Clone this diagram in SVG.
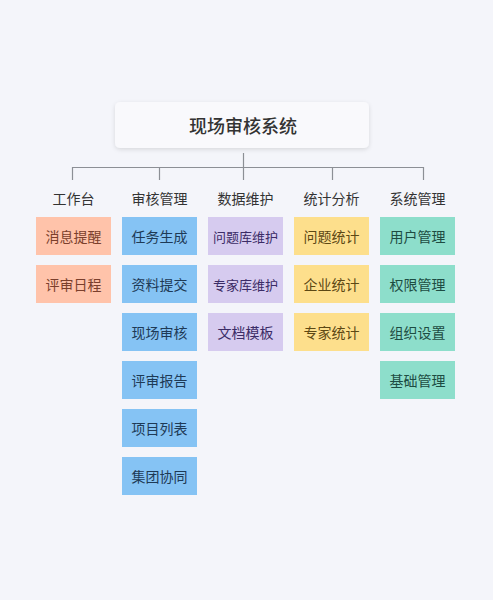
<svg xmlns="http://www.w3.org/2000/svg" width="493" height="600" viewBox="0 0 493 600">
<defs>
<style>
text{font-family:"Noto Sans CJK SC","Noto Sans",sans-serif;text-anchor:middle;dominant-baseline:central}
g text.hd{font-size:14px;fill:#333}
.bx{font-size:14px}
.c{stroke:#8c8f95;stroke-width:1.2;fill:none}
.a rect{fill:#ffc3aa}.a text{fill:#7a3f2c}
.b rect{fill:#85c3f4}.b text{fill:#1e3a56}
.p rect{fill:#d6cbef}.p text{fill:#3b2c66}
.y rect{fill:#fddf8c}.y text{fill:#5c4814}
.t rect{fill:#8ddecb}.t text{fill:#1d4c42}
</style>
<filter id="sh" x="-10%" y="-30%" width="120%" height="170%">
<feDropShadow dx="0" dy="1.5" stdDeviation="2" flood-color="#000" flood-opacity="0.12"/>
</filter>
</defs>
<rect width="493" height="600" fill="#f4f5fa"/>
<g id="root">
<rect x="115" y="102" width="254" height="46" rx="5" fill="#f9f9fc" filter="url(#sh)"/>
<text x="243" y="125" style="font-size:18px;font-weight:500;fill:#333">现场审核系统</text>
</g>
<g id="connectors">
<path class="c" d="M243.5 153V167.5M72.5 167.5H423.5M72.5 167V180M159.5 167V180M243.5 167V180M332.5 167V180M423.5 167V180"/>
</g>
<g id="col1" class="a">
<text class="hd" x="73.5" y="198">工作台</text>
<g id="n-xxtx"><rect x="36" y="217" width="75" height="38"/><text class="bx" x="73.5" y="236">消息提醒</text></g>
<g id="n-psrc"><rect x="36" y="265" width="75" height="38"/><text class="bx" x="73.5" y="284">评审日程</text></g>
</g>
<g id="col2" class="b">
<text class="hd" x="159.5" y="198">审核管理</text>
<g id="n-rwsc"><rect x="122" y="217" width="75" height="38"/><text class="bx" x="159.5" y="236">任务生成</text></g>
<g id="n-zltj"><rect x="122" y="265" width="75" height="38"/><text class="bx" x="159.5" y="284">资料提交</text></g>
<g id="n-xcsh"><rect x="122" y="313" width="75" height="38"/><text class="bx" x="159.5" y="332">现场审核</text></g>
<g id="n-psbg"><rect x="122" y="361" width="75" height="38"/><text class="bx" x="159.5" y="380">评审报告</text></g>
<g id="n-xmlb"><rect x="122" y="409" width="75" height="38"/><text class="bx" x="159.5" y="428">项目列表</text></g>
<g id="n-jtxt"><rect x="122" y="457" width="75" height="38"/><text class="bx" x="159.5" y="476">集团协同</text></g>
</g>
<g id="col3" class="p">
<text class="hd" x="245.5" y="198">数据维护</text>
<g id="n-wtk"><rect x="208" y="217" width="75" height="38"/><text class="bx" x="245.5" y="236" style="font-size:13px">问题库维护</text></g>
<g id="n-zjk"><rect x="208" y="265" width="75" height="38"/><text class="bx" x="245.5" y="284" style="font-size:13px">专家库维护</text></g>
<g id="n-wdmb"><rect x="208" y="313" width="75" height="38"/><text class="bx" x="245.5" y="332">文档模板</text></g>
</g>
<g id="col4" class="y">
<text class="hd" x="331.5" y="198">统计分析</text>
<g id="n-wttj"><rect x="294" y="217" width="75" height="38"/><text class="bx" x="331.5" y="236">问题统计</text></g>
<g id="n-qytj"><rect x="294" y="265" width="75" height="38"/><text class="bx" x="331.5" y="284">企业统计</text></g>
<g id="n-zjtj"><rect x="294" y="313" width="75" height="38"/><text class="bx" x="331.5" y="332">专家统计</text></g>
</g>
<g id="col5" class="t">
<text class="hd" x="417.5" y="198">系统管理</text>
<g id="n-yhgl"><rect x="380" y="217" width="75" height="38"/><text class="bx" x="417.5" y="236">用户管理</text></g>
<g id="n-qxgl"><rect x="380" y="265" width="75" height="38"/><text class="bx" x="417.5" y="284">权限管理</text></g>
<g id="n-zzsz"><rect x="380" y="313" width="75" height="38"/><text class="bx" x="417.5" y="332">组织设置</text></g>
<g id="n-jcgl"><rect x="380" y="361" width="75" height="38"/><text class="bx" x="417.5" y="380">基础管理</text></g>
</g>
</svg>
